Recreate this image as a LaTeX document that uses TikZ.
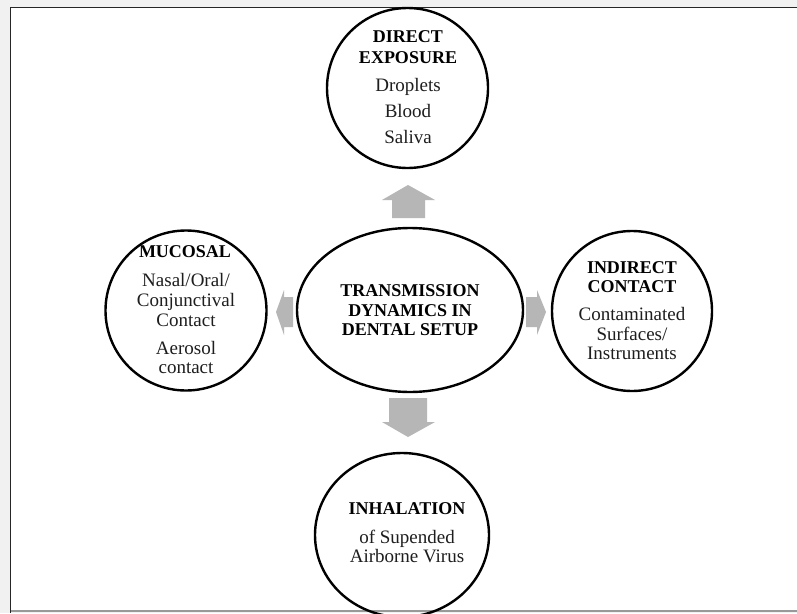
\documentclass[tikz,border=0pt]{standalone}
\usepackage{fontspec}
\setmainfont{Liberation Serif}
\usetikzlibrary{shapes.geometric}
\definecolor{frameout}{HTML}{F1F1F1}
\definecolor{arrowgray}{HTML}{B6B6B6}
\definecolor{txt}{HTML}{1E1E1E}
\tikzset{
  bubble/.style={ellipse, draw=black, line width=2.4pt, inner sep=0pt},
  head/.style={anchor=base, inner sep=0pt, text=black, font=\fontsize{18}{20}\selectfont\bfseries},
  body/.style={anchor=base, inner sep=0pt, text=txt, font=\fontsize{19}{20}\selectfont},
  blockarrow/.style={fill=arrowgray}
}
\begin{document}
\begin{tikzpicture}[x=1pt,y=-1pt]
\useasboundingbox (0,0) rectangle (797,613);
% background and frame
\fill[frameout] (0,0) rectangle (797,613);
\fill[white] (10.5,7.5) rectangle (797,611);
\draw[line width=1.5pt, black!85] (10.5,613) -- (10.5,7.5) -- (797,7.5);
\draw[line width=1.5pt, black!40] (10.5,611) -- (797,611);

% ellipses
\node[bubble, minimum width=161pt, minimum height=160pt] (top) at (407.5,88) {};
\node[bubble, minimum width=226pt, minimum height=164pt] (mid) at (410,310) {};
\node[bubble, minimum width=161pt, minimum height=160pt] (lft) at (186,310.5) {};
\node[bubble, minimum width=160pt, minimum height=160pt] (rgt) at (632,311) {};
\node[bubble, minimum width=174pt, minimum height=164pt] (bot) at (402,535) {};

% block arrows
\fill[blockarrow] (408,185) -- (435,200) -- (425,200) -- (425,218) -- (392,218) -- (392,200) -- (382,200) -- cycle;
\fill[blockarrow] (408,437) -- (435,422) -- (427,422) -- (427,398) -- (389,398) -- (389,422) -- (382,422) -- cycle;
\fill[blockarrow] (276,312) -- (284,290) -- (284,297) -- (293,297) -- (293,327) -- (284,327) -- (284,335) -- cycle;
\fill[blockarrow] (546,312) -- (537,290) -- (537,297) -- (526,297) -- (526,327) -- (537,327) -- (537,335) -- cycle;

% top texts
\node[head] (t1) at (408,42) {DIRECT};
\node[head] (t2) at (408,63) {EXPOSURE};
\node[body] (t3) at (408,91) {Droplets};
\node[body] (t4) at (408,117) {Blood};
\node[body] (t5) at (408,143) {Saliva};

% left texts
\node[head] (l1) at (185,257) {MUCOSAL};
\node[body] (l2) at (186,286) {Nasal/Oral/};
\node[body] (l3) at (186,306) {Conjunctival};
\node[body] (l4) at (186,326) {Contact};
\node[body] (l5) at (186,354) {Aerosol};
\node[body] (l6) at (186,373) {contact};

% centre texts
\node[head] (m1) at (410,296) {TRANSMISSION};
\node[head] (m2) at (410,316) {DYNAMICS IN};
\node[head] (m3) at (410,335) {DENTAL SETUP};

% right texts
\node[head] (r1) at (632,273) {INDIRECT};
\node[head] (r2) at (632,292) {CONTACT};
\node[body] (r3) at (632,320) {Contaminated};
\node[body] (r4) at (632,340) {Surfaces/};
\node[body] (r5) at (632,359) {Instruments};

% bottom texts
\node[head] (b1) at (407,514) {INHALATION};
\node[body] (b2) at (407,543) {of Supended};
\node[body] (b3) at (407,562) {Airborne Virus};
\end{tikzpicture}
\end{document}
